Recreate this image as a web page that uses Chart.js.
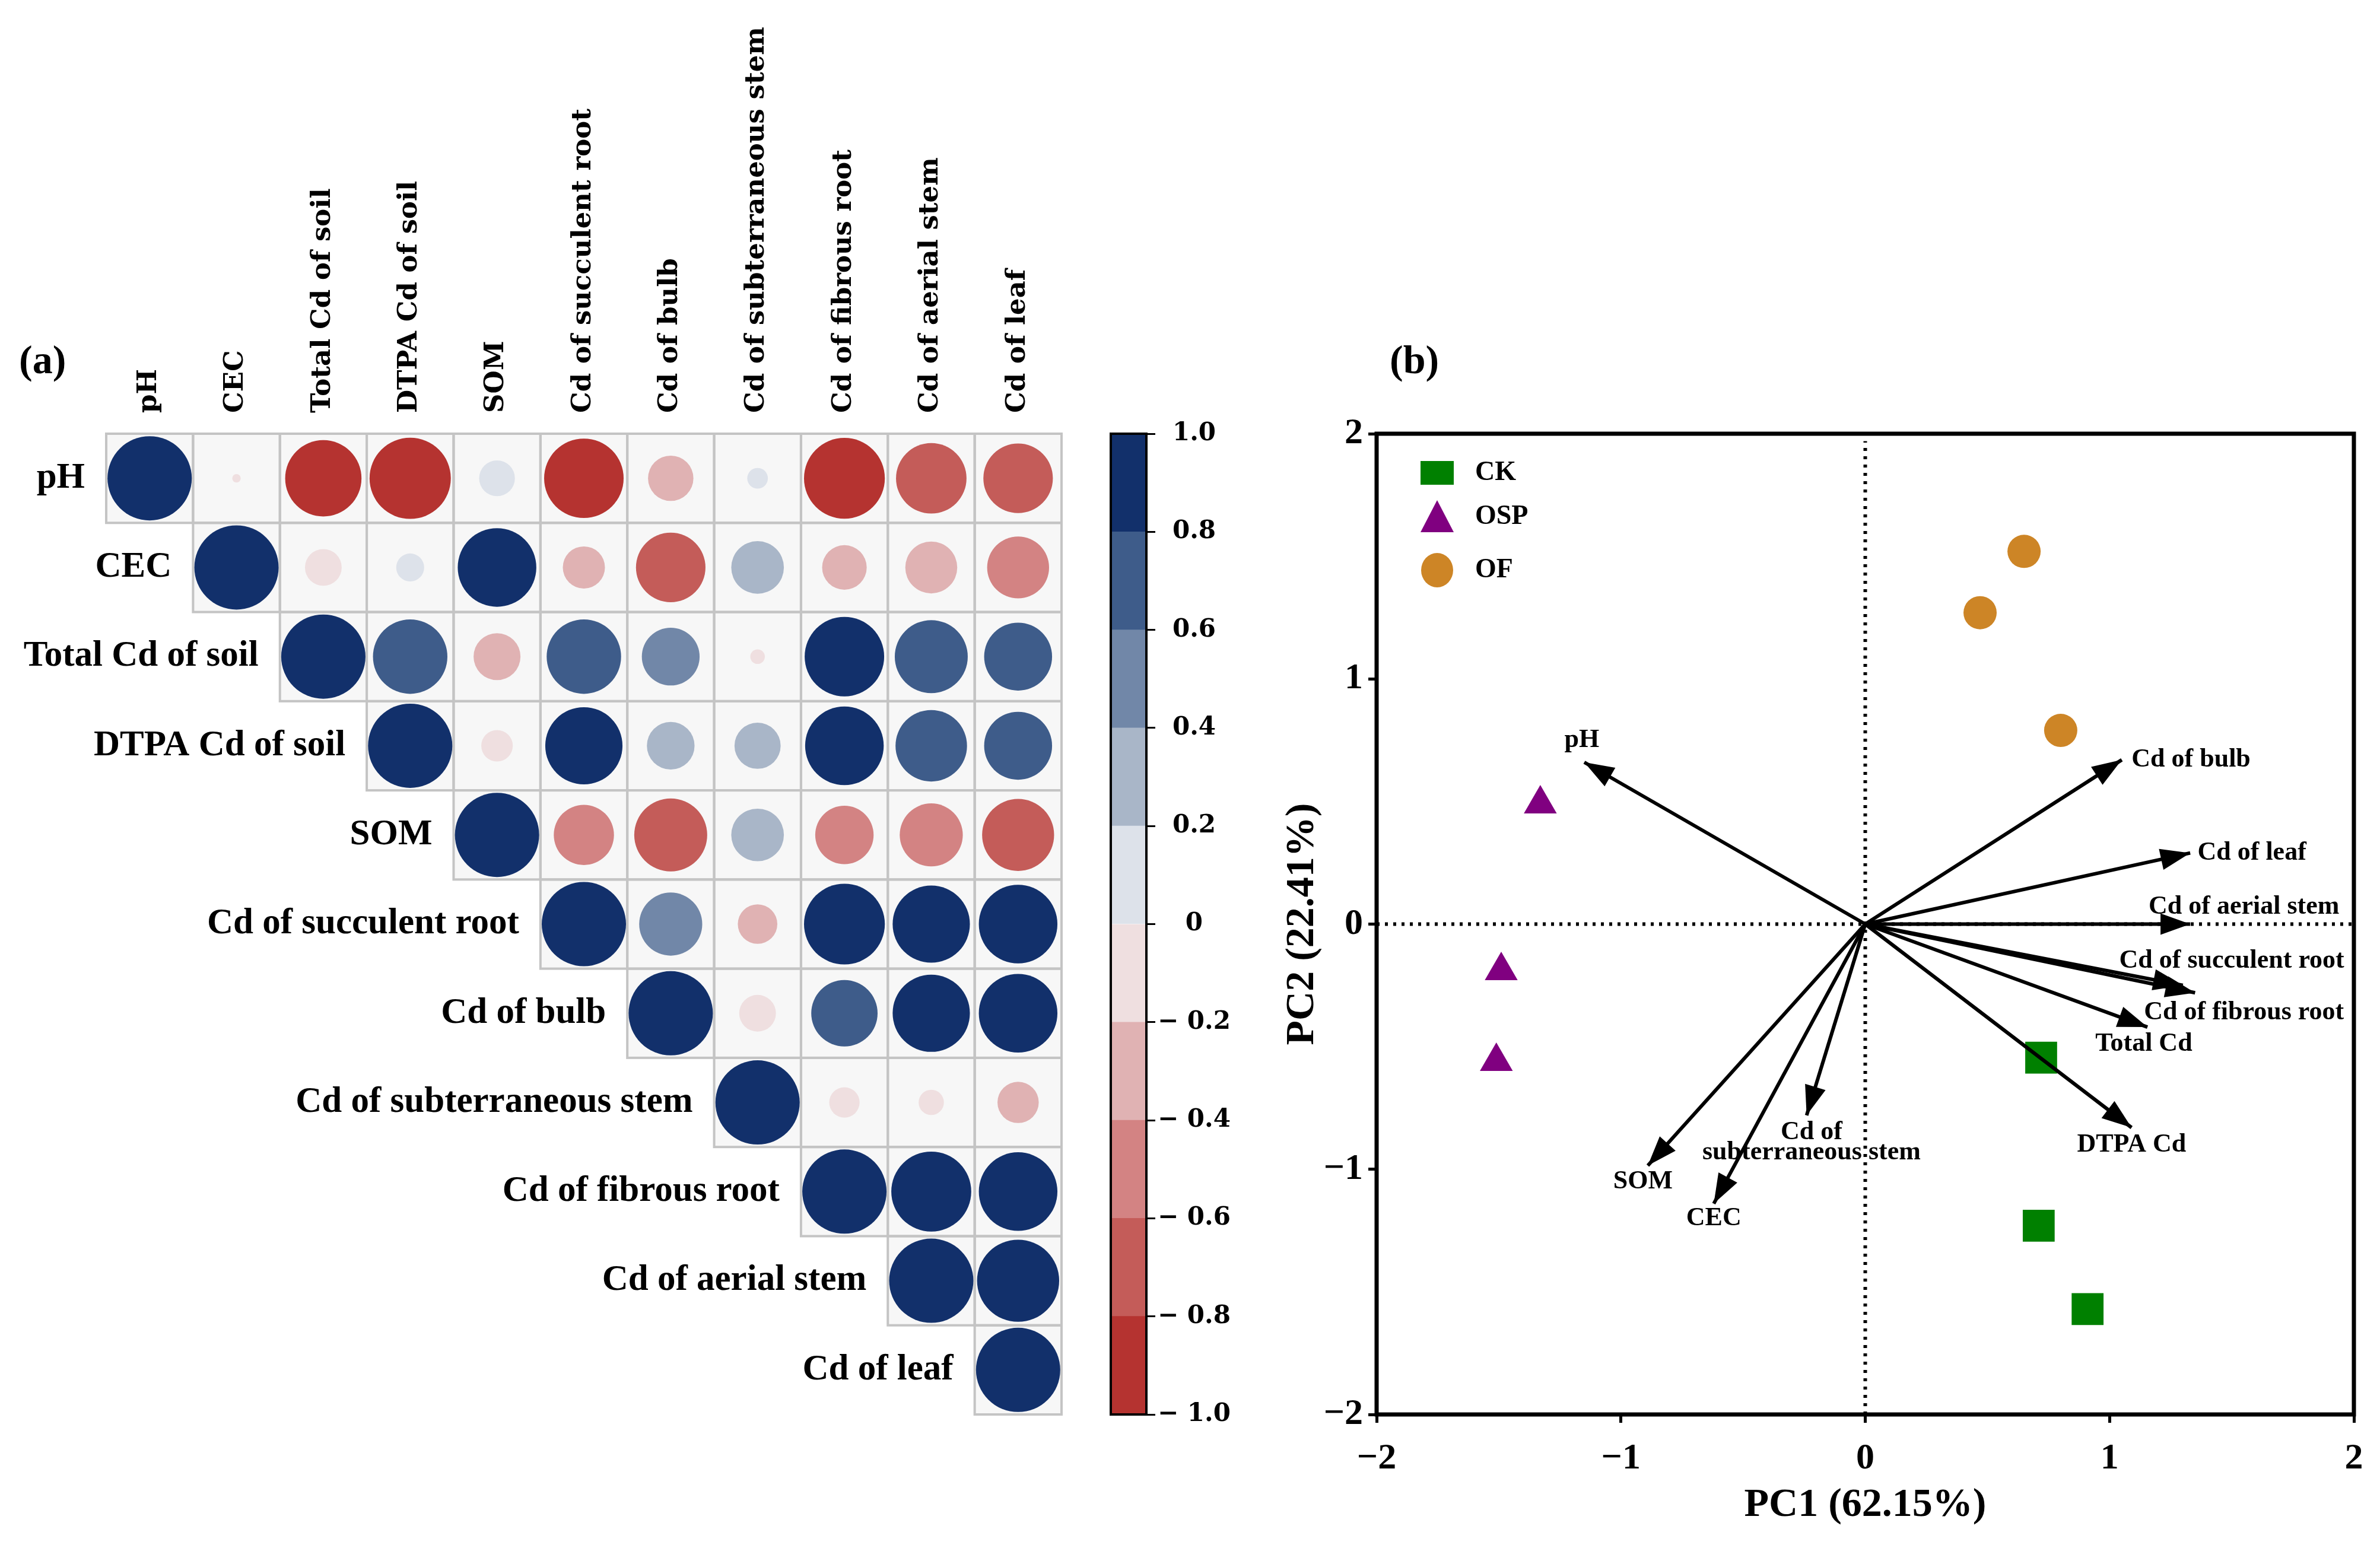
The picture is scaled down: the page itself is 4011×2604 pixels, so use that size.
<!DOCTYPE html>
<html>
<head>
<meta charset="utf-8">
<script src="https://cdn.jsdelivr.net/npm/chart.js@4.4.1/dist/chart.umd.min.js"></script>
<style>
  html, body { margin: 0; padding: 0; background: #fff; }
  body { width: 4011px; height: 2604px; position: relative; overflow: hidden; }
  canvas { position: absolute; }
  .panel { position: absolute; font-family: "Liberation Serif", serif; font-weight: bold; font-size: 68px; line-height: 1; color: #000; }
</style>
</head>
<body>
<div class="panel" style="left:32px; top:572px;">(a)</div>
<div class="panel" style="left:2342px; top:572px;">(b)</div>
<canvas id="corrChart" width="1860" height="2604" style="left:0; top:0;"></canvas>
<canvas id="barChart" width="242" height="1720" style="left:1860px; top:700px;"></canvas>
<canvas id="pcaChart" width="1961" height="2604" style="left:2050px; top:0;"></canvas>
<script>
// ---- panel (a): correlation matrix ----
const vars = ['pH', 'CEC', 'Total Cd of soil', 'DTPA Cd of soil', 'SOM', 'Cd of succulent root',
  'Cd of bulb', 'Cd of subterraneous stem', 'Cd of fibrous root', 'Cd of aerial stem', 'Cd of leaf'];

// upper triangle, each row starts at its own diagonal
const corrPH   = [1, -0.01, -0.82, -0.93, 0.18, -0.89, -0.29, 0.06, -0.92, -0.70, -0.68];
const corrCEC  = [1, -0.19, 0.11, 0.87, -0.25, -0.68, 0.39, -0.28, -0.38, -0.54];
const corrTot  = [1, 0.78, -0.31, 0.78, 0.47, -0.03, 0.89, 0.75, 0.65];
const corrDTPA = [1, -0.14, 0.84, 0.32, 0.30, 0.87, 0.72, 0.65];
const corrSOM  = [1, -0.51, -0.75, 0.39, -0.48, -0.56, -0.73];
const corrSucc = [1, 0.56, -0.22, 0.92, 0.84, 0.87];
const corrBulb = [1, -0.19, 0.62, 0.84, 0.87];
const corrSubt = [1, -0.13, -0.09, -0.24];
const corrFib  = [1, 0.90, 0.87];
const corrAer  = [1, 0.95];
const corrLeaf = [1];
const corrRows = [corrPH, corrCEC, corrTot, corrDTPA, corrSOM, corrSucc, corrBulb, corrSubt, corrFib, corrAer, corrLeaf];

// colour bar
const cbEdges = [-1, -0.8, -0.6, -0.4, -0.2, 0, 0.2, 0.4, 0.6, 0.8, 1];
const cbColors = ['#b53330', '#c45c59', '#d38383', '#e0b2b3', '#efdfe0',
                  '#dde2ea', '#a9b6c8', '#7187a8', '#3e5c8a', '#12306b'];

// ---- panel (b): PCA ----
const ckPC1 = [0.72, 0.71, 0.91];
const ckPC2 = [-0.545, -1.23, -1.57];
const ospPC1 = [-1.33, -1.49, -1.51];
const ospPC2 = [0.49, -0.19, -0.56];
const ofPC1 = [0.65, 0.47, 0.80];
const ofPC2 = [1.52, 1.27, 0.79];

const loadNames = ['pH', 'Cd of bulb', 'Cd of leaf', 'Cd of aerial stem', 'Cd of succulent root',
  'Cd of fibrous root', 'Total Cd', 'DTPA Cd', 'Cd of\nsubterraneous stem', 'SOM', 'CEC'];
const loadPC1 = [-1.15, 1.05, 1.33, 1.33, 1.30, 1.35, 1.155, 1.09, -0.24, -0.89, -0.62];
const loadPC2 = [0.66, 0.67, 0.29, 0.0, -0.25, -0.28, -0.42, -0.83, -0.78, -0.985, -1.14];

// where each loading label sits (data units) and how it is aligned
const loadLabelAt = [
  [-1.16, 0.75, 'center'], [1.09, 0.67, 'left'], [1.36, 0.29, 'left'], [1.55, 0.07, 'center'],
  [1.50, -0.15, 'center'], [1.55, -0.36, 'center'], [1.14, -0.49, 'center'], [1.09, -0.90, 'center'],
  [-0.22, -0.85, 'center'], [-0.91, -1.05, 'center'], [-0.62, -1.20, 'center']
];

Chart.defaults.animation = false;
Chart.defaults.color = '#000';

function binColor(v) {
  let k = Math.floor((v + 1) / 0.2);
  if (k > 9) k = 9;
  if (k < 0) k = 0;
  return cbColors[k];
}

const rowFont = 'bold 61px "Liberation Serif"';

const cellPlugin = {
  id: 'cells',
  beforeDatasetsDraw(chart) {
    const {ctx, chartArea: a, scales: {x, y}} = chart;
    const cw = a.width / vars.length, ch = a.height / vars.length;
    ctx.save();
    ctx.fillStyle = '#f7f7f7';
    ctx.strokeStyle = '#c4c4c4';
    ctx.lineWidth = 4;
    corrRows.forEach((row, i) => row.forEach((v, k) => {
      const cx = x.getPixelForValue(i + k), cy = y.getPixelForValue(i);
      ctx.fillRect(cx - cw / 2, cy - ch / 2, cw, ch);
    }));
    corrRows.forEach((row, i) => row.forEach((v, k) => {
      const cx = x.getPixelForValue(i + k), cy = y.getPixelForValue(i);
      ctx.strokeRect(cx - cw / 2, cy - ch / 2, cw, ch);
    }));
    ctx.restore();
  },
  afterDraw(chart) {
    const {ctx, chartArea: a, scales: {x, y}} = chart;
    const cw = a.width / vars.length;
    ctx.save();
    ctx.font = rowFont;
    ctx.fillStyle = '#000';
    ctx.textAlign = 'right';
    ctx.textBaseline = 'middle';
    vars.forEach((name, i) => {
      ctx.fillText(name, x.getPixelForValue(i) - cw / 2 - 36, y.getPixelForValue(i));
    });
    ctx.restore();
  }
};

const bubbles = [];
corrRows.forEach((row, i) => row.forEach((v, k) => {
  bubbles.push({x: vars[i + k], y: vars[i], r: 71 * Math.sqrt(Math.abs(v)), v: v});
}));

new Chart(document.getElementById('corrChart'), {
  type: 'bubble',
  data: {
    datasets: [{
      data: bubbles,
      backgroundColor: ctx => binColor(ctx.raw ? ctx.raw.v : 0),
      borderWidth: 0
    }]
  },
  options: {
    responsive: false,
    layout: {padding: {left: 179, right: 15, top: 0, bottom: 220}},
    plugins: {legend: {display: false}, tooltip: {enabled: false}},
    scales: {
      x: {
        type: 'category', labels: vars, offset: true, position: 'top',
        grid: {display: false, drawTicks: false}, border: {display: false},
        ticks: {minRotation: 90, maxRotation: 90, autoSkip: false, padding: 35, labelOffset: 53, color: '#000',
                font: {family: 'DejaVu Serif', weight: 'bold', size: 45}},
        afterFit: s => { s.height = 731; }
      },
      y: {type: 'category', labels: vars, offset: true, display: false}
    }
  },
  plugins: [cellPlugin]
});

// colour bar as floating bars
const frameBar = {
  id: 'frameBar',
  afterDatasetsDraw(chart) {
    const {ctx, chartArea: a} = chart;
    ctx.save();
    ctx.strokeStyle = '#000';
    ctx.lineWidth = 4;
    ctx.strokeRect(a.left, a.top, a.width, a.height);
    ctx.restore();
  }
};

new Chart(document.getElementById('barChart'), {
  type: 'bar',
  data: {
    labels: [''],
    datasets: cbColors.map((c, i) => ({
      data: [[cbEdges[i], cbEdges[i + 1]]],
      backgroundColor: c, borderWidth: 0,
      barPercentage: 1, categoryPercentage: 1, grouped: false
    }))
  },
  options: {
    responsive: false,
    layout: {padding: {left: 12, right: 0, top: 31, bottom: 36}},
    plugins: {legend: {display: false}, tooltip: {enabled: false}},
    scales: {
      x: {display: false},
      y: {
        position: 'right', min: -1, max: 1,
        grid: {drawOnChartArea: false, drawTicks: true, tickLength: 15, tickWidth: 3, tickColor: '#000'},
        border: {display: false},
        ticks: {
          stepSize: 0.2, padding: 4, crossAlign: 'center', color: '#000',
          font: {family: 'DejaVu Serif', weight: 'bold', size: 42},
          callback: v => Math.abs(v) < 1e-9 ? '0' : (v < 0 ? '\u2212 ' : '') + Math.abs(v).toFixed(1)
        },
        afterFit: s => { s.width = 170; }
      }
    }
  },
  plugins: [frameBar]
});

// ---- PCA biplot ----
const toPts = (xs, ys) => xs.map((v, i) => ({x: v, y: ys[i]}));
const groupStyles = [
  {label: 'CK', style: 'rect', r: 38, color: '#008000'},
  {label: 'OSP', style: 'triangle', r: 32, color: '#800080'},
  {label: 'OF', style: 'circle', r: 28, color: '#cd8526'}
];
const groupData = [toPts(ckPC1, ckPC2), toPts(ospPC1, ospPC2), toPts(ofPC1, ofPC2)];

const pcaSets = [];
groupStyles.forEach((g, i) => pcaSets.push({
  label: g.label, data: groupData[i], pointStyle: g.style, pointRadius: g.r,
  backgroundColor: g.color, borderWidth: 0, order: 1
}));
loadNames.forEach((n, i) => pcaSets.push({
  label: n, data: [{x: 0, y: 0}, {x: loadPC1[i], y: loadPC2[i]}], showLine: true,
  borderColor: '#000', borderWidth: 6, pointRadius: 0, order: 0
}));
pcaSets.push({data: [{x: -2, y: 0}, {x: 2, y: 0}], showLine: true, borderColor: '#000',
  borderWidth: 6, borderDash: [5, 9], pointRadius: 0, order: 2});
pcaSets.push({data: [{x: 0, y: -2}, {x: 0, y: 1.97}], showLine: true, borderColor: '#000',
  borderWidth: 6, borderDash: [5, 9], pointRadius: 0, order: 2});

const pcaPlugin = {
  id: 'pcaExtras',
  afterDatasetsDraw(chart) {
    const {ctx, chartArea: a, scales: {x, y}} = chart;
    ctx.save();
    // arrow heads
    const ox = x.getPixelForValue(0), oy = y.getPixelForValue(0);
    ctx.fillStyle = '#000';
    loadNames.forEach((n, i) => {
      const px = x.getPixelForValue(loadPC1[i]), py = y.getPixelForValue(loadPC2[i]);
      const ang = Math.atan2(py - oy, px - ox);
      const L = 50, W = 18;
      const bx = px - L * Math.cos(ang), by = py - L * Math.sin(ang);
      ctx.beginPath();
      ctx.moveTo(px, py);
      ctx.lineTo(bx - W * Math.sin(ang), by + W * Math.cos(ang));
      ctx.lineTo(bx + W * Math.sin(ang), by - W * Math.cos(ang));
      ctx.closePath();
      ctx.fill();
    });
    // loading labels
    ctx.font = 'bold 44px "Liberation Serif"';
    ctx.textBaseline = 'middle';
    loadNames.forEach((n, i) => {
      const [lx, ly, al] = loadLabelAt[i];
      ctx.textAlign = al;
      n.split('\n').forEach((line, k) => {
        ctx.fillText(line, x.getPixelForValue(lx), y.getPixelForValue(ly) + k * 34);
      });
    });
    // legend
    const rows = [66, 140, 230];
    ctx.font = 'bold 46px "Liberation Serif"';
    ctx.textAlign = 'left';
    groupStyles.forEach((g, i) => {
      const mx = a.left + 102, my = a.top + rows[i];
      ctx.fillStyle = g.color;
      ctx.beginPath();
      if (g.style === 'rect') ctx.rect(mx - 28, my - 20, 56, 40);
      else if (g.style === 'triangle') { ctx.moveTo(mx, my - 28); ctx.lineTo(mx + 28, my + 26); ctx.lineTo(mx - 28, my + 26); ctx.closePath(); }
      else ctx.ellipse(mx, my, 27, 29, 0, 0, Math.PI * 2);
      ctx.fill();
      ctx.fillStyle = '#000';
      ctx.fillText(g.label, a.left + 166, my);
    });
    // frame
    ctx.strokeStyle = '#000';
    ctx.lineWidth = 7;
    ctx.strokeRect(a.left, a.top, a.width, a.height);
    ctx.restore();
  }
};

const minusFmt = v => v < 0 ? '\u2212' + Math.abs(v) : String(v);
const tickFont = {family: 'Liberation Serif', weight: 'bold', size: 62};
const titleFont = {family: 'Liberation Serif', weight: 'bold', size: 68};

new Chart(document.getElementById('pcaChart'), {
  type: 'scatter',
  data: {datasets: pcaSets},
  options: {
    responsive: false,
    layout: {padding: {left: 105, right: 44, top: 731, bottom: 26}},
    plugins: {legend: {display: false}, tooltip: {enabled: false}},
    scales: {
      x: {
        min: -2, max: 2,
        grid: {drawOnChartArea: false, drawTicks: true, tickLength: 14, tickWidth: 5, tickColor: '#000'},
        border: {display: false},
        ticks: {stepSize: 1, padding: 24, font: tickFont, color: '#000', callback: minusFmt},
        title: {display: true, text: 'PC1 (62.15%)', font: titleFont, color: '#000', padding: 0},
        afterFit: s => { s.height = 194; }
      },
      y: {
        min: -2, max: 2,
        grid: {drawOnChartArea: false, drawTicks: true, tickLength: 14, tickWidth: 5, tickColor: '#000'},
        border: {display: false},
        ticks: {stepSize: 1, padding: 9, font: tickFont, color: '#000', callback: minusFmt},
        title: {display: true, text: 'PC2 (22.41%)', font: titleFont, color: '#000', padding: 0},
        afterFit: s => { s.width = 165; }
      }
    }
  },
  plugins: [pcaPlugin]
});
</script>
</body>
</html>
